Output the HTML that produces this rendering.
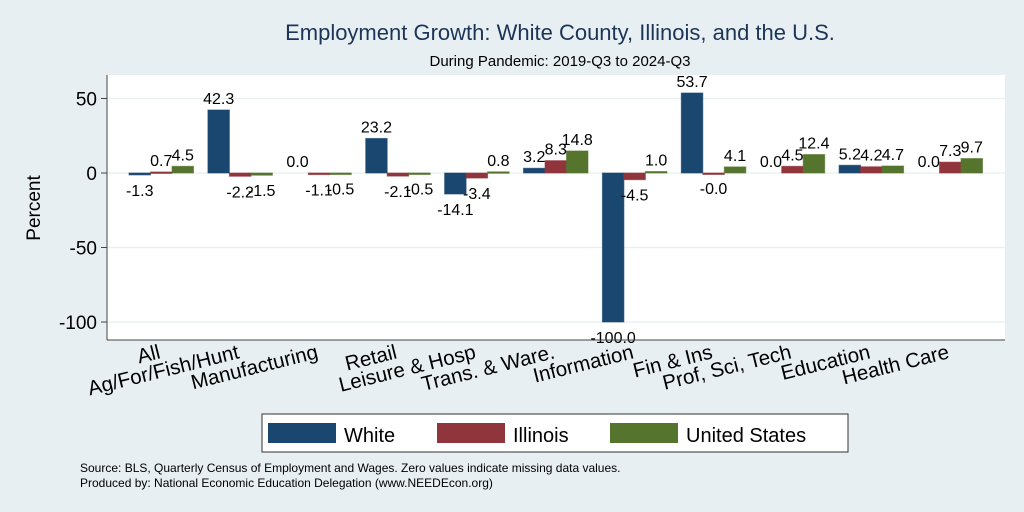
<!DOCTYPE html>
<html><head><meta charset="utf-8"><style>
body{margin:0;background:#e8eff2;}
svg{display:block;font-family:"Liberation Sans",sans-serif;}
</style></head><body>
<svg id="c" width="1024" height="512">
<rect x="0" y="0" width="1024" height="512" fill="#e8eff2"/>
<rect x="107" y="75" width="898" height="265" fill="#ffffff"/>
<text x="560" y="40" text-anchor="middle" font-size="22" fill="#1c3557">Employment Growth: White County, Illinois, and the U.S.</text>
<text x="560" y="66" text-anchor="middle" font-size="15" fill="#000">During Pandemic: 2019-Q3 to 2024-Q3</text>
<text transform="translate(40,208) rotate(-90)" text-anchor="middle" font-size="19" fill="#000">Percent</text>
<g id="grid"></g><g id="bars"></g><g id="labels"></g>
<line x1="107" y1="75" x2="107" y2="340" stroke="#444" stroke-width="1"/>
<line x1="107" y1="340" x2="1005" y2="340" stroke="#444" stroke-width="1"/>
<g>
<rect x="262" y="414" width="586" height="38" fill="#fff" stroke="#333" stroke-width="1"/>
<rect x="268" y="423" width="68" height="20" fill="#1a476f"/>
<text x="344" y="442" font-size="20">White</text>
<rect x="437" y="423" width="68" height="20" fill="#90353b"/>
<text x="513" y="442" font-size="20">Illinois</text>
<rect x="610" y="423" width="68" height="20" fill="#55752f"/>
<text x="686" y="442" font-size="20">United States</text>
</g>
<text x="80" y="472" font-size="12">Source: BLS, Quarterly Census of Employment and Wages. Zero values indicate missing data values.</text>
<text x="80" y="487" font-size="12">Produced by: National Economic Education Delegation (www.NEEDEcon.org)</text>
</svg>
<script>
const categories=["All","Ag/For/Fish/Hunt","Manufacturing","Retail","Leisure & Hosp","Trans. & Ware.","Information","Fin & Ins","Prof, Sci, Tech","Education","Health Care"];
const white=[-1.3,42.3,0.0,23.2,-14.1,3.2,-100.0,53.7,0.0,5.2,0.0];
const illinois=[0.7,-2.2,-1.1,-2.1,-3.4,8.3,-4.5,-0.01,4.5,4.2,7.3];
const us=[4.5,-1.5,-0.5,-0.5,0.8,14.8,1.0,4.1,12.4,4.7,9.7];
const ticks=[50,0,-50,-100];
const series=[white,illinois,us];
const seriesNames=["white","illinois","us"];
const colors=["#1a476f","#90353b","#55752f"];
const NS="http://www.w3.org/2000/svg";
const y=v=>173-v*1.49;
const groupX=i=>129+i*78.9;
const bw=21.5;
const grid=document.getElementById('grid'),bars=document.getElementById('bars'),labels=document.getElementById('labels');
function mk(tag,attrs,parent,text){const e=document.createElementNS(NS,tag);for(const k in attrs)e.setAttribute(k,attrs[k]);if(text!==undefined)e.textContent=text;parent.appendChild(e);return e;}
ticks.forEach(t=>{
 const l=mk('line',{x1:107,x2:1005,y1:y(t),y2:y(t),stroke:'#eaf0f2','stroke-width':1.5},grid);
 
 
 const tk=mk('line',{x1:101,x2:107,y1:y(t),y2:y(t),stroke:'#444'},grid);
 
 
 const tx=mk('text',{x:97,y:y(t)+7,'text-anchor':'end','font-size':19},grid,String(t));
 
 
});
categories.forEach((c,i)=>{
 series.forEach((s,j)=>{
  const v=s[i];const x=groupX(i)+j*bw;
  if(!(j===0&&v===0)){
   const r=mk('rect',{x:x,y:Math.min(y(v),y(0)),width:bw,height:Math.max(Math.abs(y(v)-y(0)),1.5),fill:colors[j],stroke:colors[j],'stroke-opacity':0.6},bars);
   
   
  }
  const ty=v>=0?y(v)-6:y(v)+21;
  const t=mk('text',{x:x+bw/2,y:ty,'text-anchor':'middle','font-size':16},labels,v.toFixed(1));
  
  
 });
 const cx=groupX(i)+bw*1.5;
 const lt=mk('text',{transform:`translate(${cx},358) rotate(-14)`,'text-anchor':'end','font-size':20.5},labels,c);
 
 
});
</script>
</body></html>
